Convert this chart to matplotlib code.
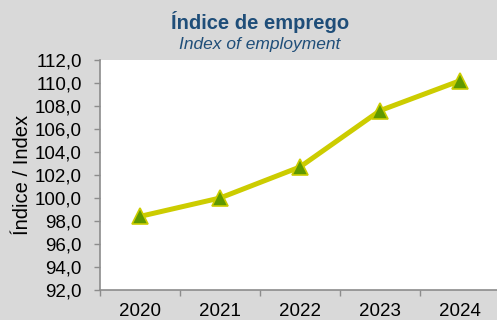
import matplotlib
matplotlib.use("Agg")
import matplotlib.pyplot as plt
from matplotlib.ticker import FixedLocator, FuncFormatter

plt.rcParams['font.family'] = ['Liberation Sans', 'DejaVu Sans']

# Dados
anos = ['2020', '2021', '2022', '2023', '2024']
indice = [98.4, 100.0, 102.7, 107.6, 110.2]
y_ticks = [92, 94, 96, 98, 100, 102, 104, 106, 108, 110, 112]

fundo = '#d9d9d9'
cor_linha = '#cccc00'
cor_marcador = '#5f9900'
cor_titulo = '#1f4e79'

fig = plt.figure(figsize=(4.97, 3.2), dpi=100, facecolor=fundo)
ax = fig.add_axes([100 / 497, 30 / 320, 400 / 497, 230 / 320])
ax.set_facecolor('white')

x = list(range(len(anos)))
ax.plot(x, indice, color=cor_linha, lw=3.6, marker='^', ms=11,
        markerfacecolor=cor_marcador, markeredgecolor=cor_linha,
        markeredgewidth=1.2, clip_on=False, zorder=3)

ax.set_xlim(-0.5, len(anos) - 0.5)
ax.set_ylim(92, 112)
ax.set_yticks(y_ticks)
ax.yaxis.set_major_formatter(FuncFormatter(lambda v, p: f'{v:.1f}'.replace('.', ',')))
ax.set_xticks(x)
ax.set_xticklabels(anos)
ax.xaxis.set_minor_locator(FixedLocator([i - 0.5 for i in range(len(anos) + 1)]))

for s in ['top', 'right']:
    ax.spines[s].set_visible(False)
for s in ['left', 'bottom']:
    ax.spines[s].set_color('#8c8c8c')
    ax.spines[s].set_linewidth(1.2)

ax.tick_params(axis='y', length=4, width=1, color='#8c8c8c', labelsize=13.5, pad=9)
ax.tick_params(axis='x', which='major', length=0, labelsize=13.5, pad=9.5)
ax.tick_params(axis='x', which='minor', length=4, width=1, color='#8c8c8c')

fig.text(23 / 497, 1 - 175 / 320, 'Índice / Index', rotation=90, fontsize=14.5,
         ha='center', va='center')

fig.text(260 / 497, 1 - 22 / 320, 'Índice de emprego', fontsize=14.5,
         fontweight='bold', color=cor_titulo, ha='center', va='center')
fig.text(260 / 497, 1 - 45 / 320, 'Index of employment', fontsize=12.5,
         style='italic', color=cor_titulo, ha='center', va='center')

fig.savefig('out.png', dpi=100, facecolor=fundo)
